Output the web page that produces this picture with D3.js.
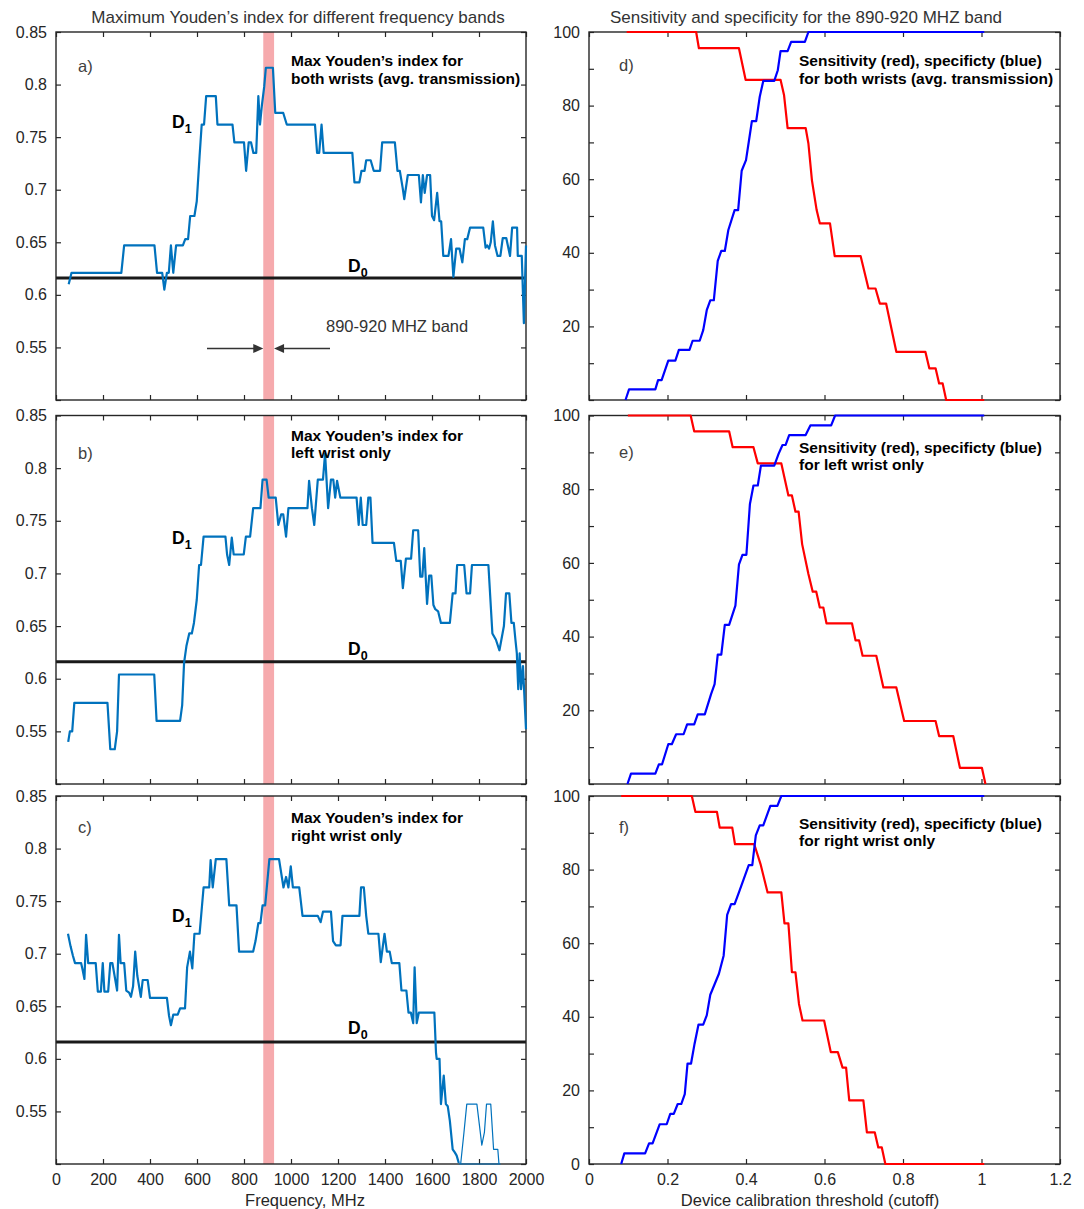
<!DOCTYPE html>
<html>
<head>
<meta charset="utf-8">
<script src="https://cdn.jsdelivr.net/npm/d3@7"></script>
<style>
  body { margin: 0; background: #fff; }
  text { font-family: Arial, "Liberation Sans", Helvetica, sans-serif; }
</style>
</head>
<body>
<svg id="chart" width="1084" height="1209"></svg>
<script>
// ---- tick labels / fixed levels ----
const freqTicks = [0, 200, 400, 600, 800, 1000, 1200, 1400, 1600, 1800, 2000];
const youdenTicks = [0.5, 0.55, 0.6, 0.65, 0.7, 0.75, 0.8, 0.85];
const cutoffTicks = [0, 0.2, 0.4, 0.6, 0.8, 1, 1.2];
const percentTicks = [0, 10, 20, 30, 40, 50, 60, 70, 80, 90, 100];
const bandMHz = [882, 928];
const d0Level = 0.616;

// ---- max Youden index vs frequency (MHz) ----
const youdenBoth = [[54,0.610],[66,0.621],[278,0.621],[290,0.647],[419,0.647],[430,0.621],[452,0.621],[461,0.605],
  [472,0.621],[480,0.621],[489,0.647],[499,0.621],[511,0.647],[540,0.647],[550,0.653],[562,0.653],[571,0.675],
  [589,0.675],[599,0.689],[611,0.732],[620,0.762],[630,0.762],[639,0.789],[680,0.789],[687,0.762],[751,0.762],
  [759,0.745],[800,0.745],[809,0.718],[820,0.745],[830,0.745],[840,0.735],[852,0.735],[861,0.789],[868,0.762],
  [876,0.780],[886,0.798],[893,0.816],[923,0.816],[933,0.773],[967,0.773],[982,0.762],[1102,0.762],[1111,0.735],
  [1120,0.735],[1130,0.762],[1139,0.735],[1261,0.735],[1270,0.707],[1291,0.707],[1300,0.718],[1313,0.718],
  [1320,0.728],[1339,0.728],[1352,0.718],[1379,0.718],[1388,0.745],[1442,0.745],[1453,0.718],[1463,0.718],
  [1475,0.702],[1482,0.691],[1497,0.714],[1544,0.714],[1553,0.688],[1561,0.714],[1569,0.697],[1579,0.714],
  [1592,0.714],[1600,0.675],[1609,0.671],[1622,0.697],[1632,0.670],[1639,0.670],[1648,0.637],[1670,0.637],
  [1681,0.653],[1691,0.617],[1703,0.644],[1717,0.644],[1729,0.631],[1740,0.653],[1750,0.653],[1762,0.664],
  [1818,0.664],[1828,0.645],[1835,0.647],[1843,0.644],[1850,0.650],[1859,0.670],[1868,0.647],[1879,0.637],
  [1891,0.637],[1901,0.654],[1916,0.654],[1932,0.637],[1941,0.664],[1962,0.664],[1965,0.637],[1982,0.637],
  [1991,0.573],[2000,0.647]];

const youdenLeft = [[52,0.540],[59,0.550],[69,0.550],[78,0.577],[219,0.577],[231,0.533],[250,0.533],[260,0.550],
  [268,0.604],[418,0.604],[428,0.560],[528,0.560],[537,0.575],[545,0.615],[555,0.631],[567,0.643],[578,0.643],
  [587,0.653],[599,0.675],[609,0.708],[617,0.708],[628,0.735],[721,0.735],[728,0.718],[737,0.708],[748,0.734],
  [756,0.718],[799,0.718],[808,0.735],[826,0.735],[839,0.762],[870,0.762],[879,0.789],[896,0.789],[905,0.772],
  [935,0.772],[946,0.746],[958,0.756],[967,0.756],[979,0.735],[989,0.762],[1070,0.762],[1077,0.788],[1089,0.762],
  [1099,0.746],[1114,0.789],[1136,0.789],[1145,0.814],[1158,0.762],[1170,0.789],[1180,0.789],[1188,0.772],
  [1196,0.788],[1210,0.772],[1279,0.772],[1288,0.746],[1297,0.772],[1305,0.746],[1320,0.746],[1329,0.772],
  [1338,0.772],[1347,0.729],[1438,0.729],[1448,0.712],[1467,0.712],[1476,0.686],[1489,0.714],[1511,0.714],
  [1520,0.741],[1541,0.741],[1550,0.697],[1559,0.697],[1567,0.724],[1579,0.671],[1588,0.698],[1597,0.698],
  [1606,0.670],[1614,0.666],[1626,0.664],[1638,0.653],[1676,0.653],[1688,0.681],[1700,0.681],[1707,0.708],
  [1737,0.708],[1747,0.681],[1762,0.681],[1770,0.708],[1840,0.708],[1857,0.643],[1872,0.637],[1887,0.627],
  [1906,0.650],[1915,0.681],[1929,0.681],[1938,0.653],[1948,0.653],[1955,0.637],[1961,0.624],[1967,0.590],
  [1973,0.624],[1979,0.590],[1987,0.612],[2000,0.552]];

const youdenRight = [[51,0.719],[62,0.707],[72,0.698],[81,0.691],[107,0.691],[113,0.685],[121,0.676],[128,0.718],
  [137,0.691],[169,0.691],[178,0.664],[191,0.664],[199,0.691],[206,0.664],[222,0.664],[231,0.691],[240,0.691],
  [260,0.665],[268,0.718],[275,0.691],[290,0.691],[299,0.665],[311,0.663],[319,0.659],[328,0.669],[337,0.702],
  [346,0.679],[361,0.659],[369,0.675],[390,0.675],[400,0.658],[472,0.658],[481,0.641],[489,0.632],[499,0.642],
  [518,0.642],[528,0.648],[549,0.648],[558,0.687],[570,0.702],[580,0.686],[589,0.719],[611,0.719],[628,0.763],
  [652,0.763],[658,0.789],[667,0.763],[680,0.790],[725,0.790],[737,0.746],[768,0.746],[779,0.702],[839,0.702],
  [849,0.712],[861,0.729],[870,0.729],[879,0.746],[890,0.746],[908,0.790],[949,0.790],[961,0.773],[968,0.763],
  [979,0.773],[989,0.763],[999,0.783],[1008,0.763],[1035,0.763],[1049,0.736],[1114,0.736],[1126,0.730],
  [1136,0.740],[1170,0.740],[1179,0.712],[1191,0.708],[1211,0.708],[1219,0.736],[1291,0.736],[1298,0.763],
  [1310,0.763],[1320,0.736],[1329,0.719],[1372,0.719],[1382,0.692],[1389,0.704],[1398,0.719],[1408,0.702],
  [1420,0.702],[1429,0.691],[1461,0.691],[1470,0.665],[1491,0.665],[1500,0.644],[1510,0.644],[1520,0.634],
  [1526,0.687],[1535,0.634],[1544,0.644],[1610,0.644],[1617,0.606],[1620,0.600],[1632,0.600],[1638,0.557],
  [1650,0.584],[1659,0.557],[1667,0.555],[1676,0.541],[1688,0.514],[1697,0.511],[1705,0.508],[1714,0.501]];

// thin, partly clipped tail of the right-wrist curve
const youdenRightTail = [[1714,0.5],[1722,0.5],[1736,0.530],[1748,0.557],[1791,0.557],[1812,0.518],[1823,0.530],
  [1832,0.557],[1850,0.557],[1862,0.514],[1880,0.514],[1885,0.5],[1890,0.5],[1714,0.5]];

// ---- sensitivity (red) / specificity (blue) vs cutoff ----
const sensBoth = [[0.096,100],[0.273,100],[0.280,95.6],[0.382,95.6],[0.399,87.0],[0.488,87.0],[0.497,82.8],
  [0.506,73.9],[0.552,73.9],[0.559,69.7],[0.568,59.7],[0.580,51.6],[0.588,48.0],[0.614,48.0],[0.626,39.1],
  [0.692,39.1],[0.712,30.3],[0.730,30.3],[0.741,26.2],[0.757,26.2],[0.783,13.1],[0.857,13.1],[0.867,8.6],
  [0.883,8.6],[0.892,4.5],[0.901,4.5],[0.910,0],[1.007,0]];
const specBoth = [[0.093,0],[0.102,2.9],[0.169,2.9],[0.176,5.4],[0.185,5.4],[0.202,10.7],[0.220,10.7],[0.229,13.6],
  [0.256,13.6],[0.264,16.1],[0.282,16.1],[0.291,19.0],[0.300,24.4],[0.309,27.1],[0.318,27.1],[0.328,37.8],
  [0.337,40.5],[0.346,40.5],[0.355,46.2],[0.371,51.6],[0.380,51.6],[0.389,62.3],[0.400,65.2],[0.407,70.1],
  [0.415,75.8],[0.426,75.8],[0.435,82.4],[0.444,86.7],[0.472,86.7],[0.481,89.6],[0.488,94.8],[0.506,94.8],
  [0.515,97.3],[0.550,97.3],[0.559,100],[1.007,100]];

const sensLeft = [[0.099,100],[0.259,100],[0.268,95.7],[0.357,95.7],[0.366,91.4],[0.419,91.4],[0.430,87.0],
  [0.490,87.0],[0.508,78.3],[0.517,78.3],[0.526,73.9],[0.534,73.9],[0.543,65.1],[0.559,57.0],[0.570,52.2],
  [0.579,52.2],[0.588,47.9],[0.597,47.9],[0.605,43.6],[0.670,43.6],[0.679,39.0],[0.688,39.0],[0.697,34.8],
  [0.732,34.8],[0.750,26.2],[0.783,26.2],[0.803,17.1],[0.883,17.1],[0.892,13.0],[0.928,13.0],[0.945,4.4],
  [1.001,4.4],[1.010,0]];
const specLeft = [[0.098,0],[0.107,2.8],[0.169,2.8],[0.178,5.3],[0.186,5.3],[0.202,10.8],[0.211,10.8],[0.222,13.5],
  [0.241,13.5],[0.250,16.2],[0.268,16.2],[0.277,18.9],[0.295,18.9],[0.311,24.4],[0.320,27.1],[0.328,35.1],
  [0.337,35.1],[0.346,43.2],[0.357,43.2],[0.373,48.4],[0.382,59.5],[0.391,62.2],[0.401,62.2],[0.410,76.0],
  [0.419,81.0],[0.430,81.0],[0.438,86.4],[0.472,86.4],[0.483,89.6],[0.493,92.0],[0.501,92.0],[0.510,94.7],
  [0.552,94.7],[0.564,97.3],[0.617,97.3],[0.627,100],[1.007,100]];

const sensRight = [[0.082,100],[0.262,100],[0.271,95.7],[0.326,95.7],[0.333,91.4],[0.365,91.4],[0.372,86.9],
  [0.421,86.9],[0.437,81.5],[0.455,73.8],[0.490,73.8],[0.498,65.4],[0.508,65.4],[0.517,52.1],[0.526,52.1],
  [0.535,43.5],[0.544,39.0],[0.599,39.0],[0.616,30.4],[0.634,30.4],[0.646,26.2],[0.655,26.2],[0.663,17.3],
  [0.699,17.3],[0.708,8.6],[0.728,8.6],[0.737,4.5],[0.746,4.5],[0.755,0],[1.007,0]];
const specRight = [[0.082,0],[0.090,2.9],[0.143,2.9],[0.153,5.6],[0.162,5.6],[0.180,10.8],[0.198,10.8],[0.207,13.6],
  [0.216,13.6],[0.226,16.3],[0.235,16.3],[0.244,19.0],[0.251,27.3],[0.260,27.3],[0.269,32.7],[0.279,37.9],
  [0.291,37.9],[0.300,40.4],[0.309,46.0],[0.331,51.7],[0.343,56.6],[0.352,67.7],[0.362,70.6],[0.371,70.6],
  [0.382,73.8],[0.407,81.2],[0.416,81.2],[0.425,89.3],[0.435,92.0],[0.444,92.0],[0.462,97.3],[0.480,97.3],
  [0.490,100],[1.007,100]];

// ---- layout ----
const leftRange = [56, 526];
const rightRange = [589, 1060];
const rows = [[32, 400], [415.5, 784], [796, 1164]];
const axisColor = '#262626';
const fontFam = 'Arial, "Liberation Sans", Helvetica, sans-serif';

const svg = d3.select('#chart');

const youdenPanels = [
  { series: youdenBoth, tag: 'a)', note: ['Max Youden’s index for', 'both wrists (avg. transmission)'],
    noteY: 66, tagY: 72, d1Y: 128, d0Y: 272 },
  { series: youdenLeft, tag: 'b)', note: ['Max Youden’s index for', 'left wrist only'],
    noteY: 440.5, tagY: 458.5, d1Y: 544, d0Y: 655 },
  { series: youdenRight, tag: 'c)', note: ['Max Youden’s index for', 'right wrist only'],
    noteY: 823, tagY: 833, d1Y: 922, d0Y: 1034, tail: youdenRightTail }
];

const rocPanels = [
  { sens: sensBoth, spec: specBoth, tag: 'd)', note: ['Sensitivity (red), specificty (blue)', 'for both wrists (avg. transmission)'],
    noteY: 66, tagY: 71 },
  { sens: sensLeft, spec: specLeft, tag: 'e)', note: ['Sensitivity (red), specificty (blue)', 'for left wrist only'],
    noteY: 452.5, tagY: 458 },
  { sens: sensRight, spec: specRight, tag: 'f)', note: ['Sensitivity (red), specificty (blue)', 'for right wrist only'],
    noteY: 828.5, tagY: 833 }
];

function styleAxis(g) {
  g.select('.domain').remove();
  g.attr('color', axisColor)
    .attr('font-size', 16)
    .attr('font-family', fontFam);
  g.selectAll('line').attr('stroke-width', 1.2);
}

function drawFrame(x, y) {
  const [x0, x1] = x.range();
  const [y1, y0] = y.range();
  svg.append('rect')
    .attr('x', x0).attr('y', y0)
    .attr('width', x1 - x0).attr('height', y1 - y0)
    .attr('fill', 'none')
    .attr('stroke', axisColor)
    .attr('stroke-width', 1.4);
}

function drawAxes(x, y, xTicks, yTicks, yFmt, showX) {
  const [x0, x1] = x.range();
  const [y1, y0] = y.range();
  svg.append('g').attr('transform', `translate(${x0},0)`)
    .call(d3.axisLeft(y).tickValues(yTicks).tickSize(-5).tickPadding(9).tickFormat(yFmt))
    .call(styleAxis);
  svg.append('g').attr('transform', `translate(${x1},0)`)
    .call(d3.axisRight(y).tickValues(yTicks).tickSize(-5).tickFormat(''))
    .call(styleAxis);
  svg.append('g').attr('transform', `translate(0,${y0})`)
    .call(d3.axisTop(x).tickValues(xTicks).tickSize(-5).tickFormat(''))
    .call(styleAxis);
  svg.append('g').attr('transform', `translate(0,${y1})`)
    .call(d3.axisBottom(x).tickValues(xTicks).tickSize(-5).tickPadding(10)
      .tickFormat(showX ? (d => String(d)) : ''))
    .call(styleAxis);
}

function boldNote(x, y, lines) {
  const t = svg.append('text')
    .attr('x', x).attr('y', y)
    .attr('font-size', 15.5).attr('font-weight', 'bold').attr('fill', '#000');
  lines.forEach((s, i) => {
    t.append('tspan').attr('x', x).attr('dy', i === 0 ? 0 : 17.5).text(s);
  });
}

function tagLabel(x, y, s) {
  svg.append('text').attr('x', x).attr('y', y)
    .attr('font-size', 16.5).attr('fill', '#404040').text(s);
}

function dLabel(x, y, sub) {
  const t = svg.append('text').attr('x', x).attr('y', y)
    .attr('font-size', 17.5).attr('font-weight', 'bold').attr('fill', '#000');
  t.append('tspan').text('D');
  t.append('tspan').attr('font-size', 12.5).attr('dy', 5).text(sub);
}

// ---- left column: max Youden's index ----
const xFreq = d3.scaleLinear().domain([0, 2000]).range(leftRange);

youdenPanels.forEach((p, i) => {
  const y = d3.scaleLinear().domain([0.5, 0.85]).range([rows[i][1], rows[i][0]]);
  const line = d3.line().x(d => xFreq(d[0])).y(d => y(d[1]));

  svg.append('rect')
    .attr('x', xFreq(bandMHz[0])).attr('width', xFreq(bandMHz[1]) - xFreq(bandMHz[0]))
    .attr('y', rows[i][0]).attr('height', rows[i][1] - rows[i][0])
    .attr('fill', '#f6aaad');

  svg.append('line')
    .attr('x1', leftRange[0]).attr('x2', leftRange[1])
    .attr('y1', y(d0Level)).attr('y2', y(d0Level))
    .attr('stroke', '#1a1a1a').attr('stroke-width', 3);

  drawAxes(xFreq, y, freqTicks, youdenTicks, d => (d < 0.52 ? '' : String(+d.toFixed(2))), i === 2);
  drawFrame(xFreq, y);

  if (p.tail) {
    svg.append('path').datum(p.tail)
      .attr('d', line).attr('fill', 'none')
      .attr('stroke', '#0072bd').attr('stroke-width', 1.2).attr('stroke-linejoin', 'round');
  }
  svg.append('path').datum(p.series)
    .attr('d', line).attr('fill', 'none')
    .attr('stroke', '#0072bd').attr('stroke-width', 2.2).attr('stroke-linejoin', 'round');

  tagLabel(78, p.tagY, p.tag);
  boldNote(291, p.noteY, p.note);
  dLabel(172, p.d1Y, '1');
  dLabel(348, p.d0Y, '0');

  if (i === 0) {
    // band width marker
    const ay = y(0.549);
    const l = xFreq(bandMHz[0]), r = xFreq(bandMHz[1]);
    svg.append('line').attr('x1', 207).attr('x2', l - 8).attr('y1', ay).attr('y2', ay)
      .attr('stroke', '#333').attr('stroke-width', 1.6);
    svg.append('path').attr('d', `M${l},${ay} L${l - 10},${ay - 4.5} L${l - 10},${ay + 4.5} Z`).attr('fill', '#333');
    svg.append('line').attr('x1', 330).attr('x2', r + 8).attr('y1', ay).attr('y2', ay)
      .attr('stroke', '#333').attr('stroke-width', 1.6);
    svg.append('path').attr('d', `M${r},${ay} L${r + 10},${ay - 4.5} L${r + 10},${ay + 4.5} Z`).attr('fill', '#333');
    svg.append('text').attr('x', 326).attr('y', 332)
      .attr('font-size', 16.5).attr('fill', '#333').text('890-920 MHZ band');
  }
});

// ---- right column: sensitivity and specificity ----
const xCut = d3.scaleLinear().domain([0, 1.2]).range(rightRange);

rocPanels.forEach((p, i) => {
  const y = d3.scaleLinear().domain([0, 100]).range([rows[i][1], rows[i][0]]);
  const line = d3.line().x(d => xCut(d[0])).y(d => y(d[1]));

  drawAxes(xCut, y, cutoffTicks, percentTicks,
    d => (d % 20 !== 0 || (d === 0 && i < 2)) ? '' : String(d), i === 2);
  drawFrame(xCut, y);

  svg.append('path').datum(p.sens)
    .attr('d', line).attr('fill', 'none')
    .attr('stroke', '#ff0000').attr('stroke-width', 2.2).attr('stroke-linejoin', 'round');
  svg.append('path').datum(p.spec)
    .attr('d', line).attr('fill', 'none')
    .attr('stroke', '#0000ff').attr('stroke-width', 2.2).attr('stroke-linejoin', 'round');

  tagLabel(619, p.tagY, p.tag);
  boldNote(799, p.noteY, p.note);
});

// ---- titles ----
svg.append('text').attr('x', 298).attr('y', 23).attr('text-anchor', 'middle')
  .attr('font-size', 17).attr('fill', '#333')
  .text('Maximum Youden’s index for different frequency bands');
svg.append('text').attr('x', 806).attr('y', 23).attr('text-anchor', 'middle')
  .attr('font-size', 17).attr('fill', '#333')
  .text('Sensitivity and specificity for the 890-920 MHZ band');
svg.append('text').attr('x', 305).attr('y', 1206).attr('text-anchor', 'middle')
  .attr('font-size', 16.5).attr('fill', '#262626').text('Frequency, MHz');
svg.append('text').attr('x', 810).attr('y', 1206).attr('text-anchor', 'middle')
  .attr('font-size', 16.5).attr('fill', '#262626').text('Device calibration threshold (cutoff)');
</script>
</body>
</html>
